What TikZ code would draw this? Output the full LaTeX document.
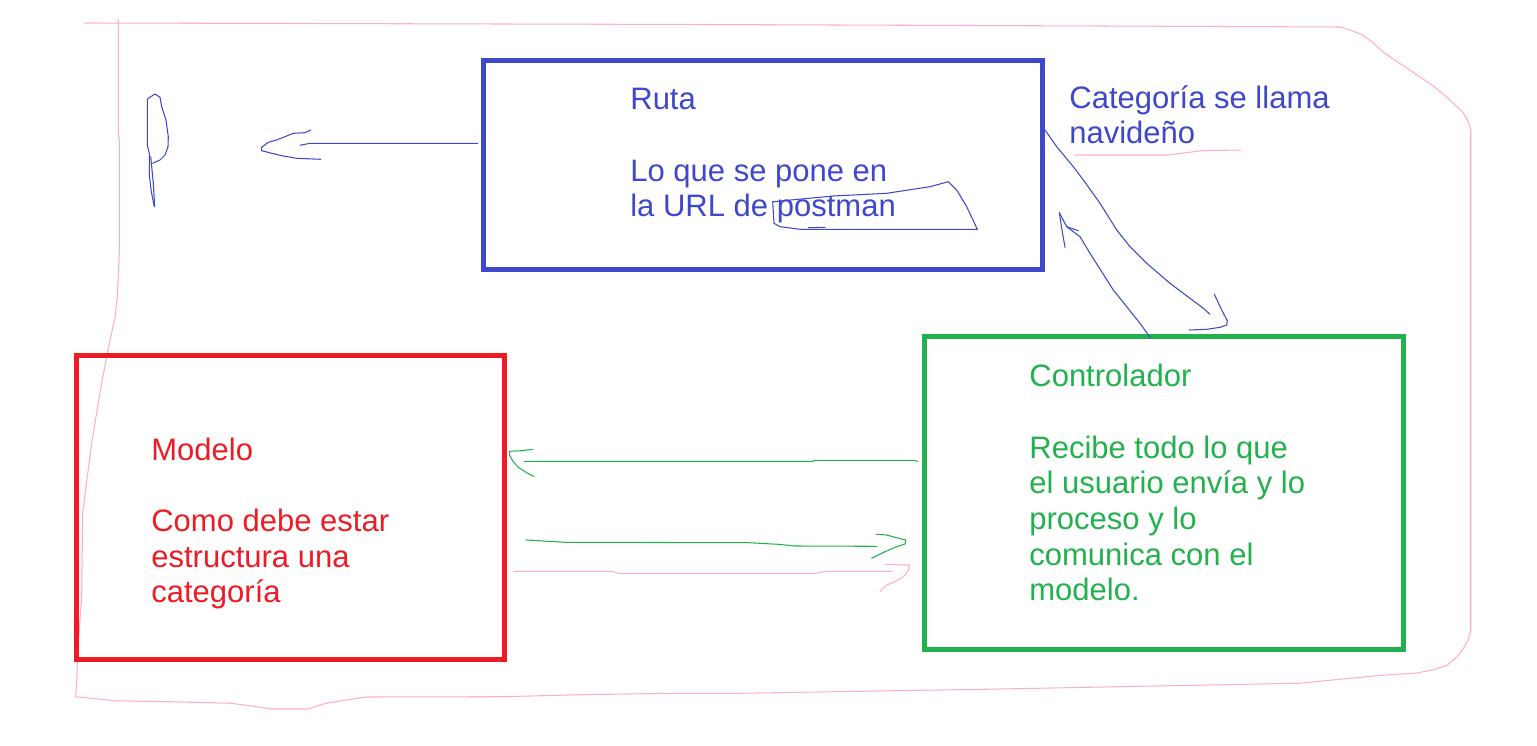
\documentclass[tikz,border=0pt]{standalone}
\usepackage{fontspec}
\setmainfont{Liberation Sans}
\definecolor{pblue}{HTML}{3F48CC}
\definecolor{pred}{HTML}{ED1C24}
\definecolor{pgreen}{HTML}{22B14C}
\definecolor{ppink}{HTML}{FFAEC9}
\newcommand\txtlines[1]{\vtop{#1}}
\newcommand\tl[1]{\hbox{#1}}
\tikzset{
  box/.style={draw, line width=2.83pt, inner sep=0pt, rectangle},
  txt/.style={anchor=base west, inner sep=0pt, font=\fontsize{17.65}{20.3}\selectfont},
  pen/.style={line width=0.6pt, line join=round, line cap=round},
}
\begin{document}
\begin{tikzpicture}[x=0.02cm, y=-0.02cm]
\useasboundingbox (0,0) rectangle (1537,746);
\fill[white] (0,0) rectangle (1537,746);

% pink hand-drawn frame
\draw[pen, ppink] (85,23) -- (300,23.5) -- (700,24.5) -- (1100,26) -- (1340,27) -- (1350,30) -- (1361.7,34.6) -- (1371.7,41.3) -- (1383.3,52.4) -- (1400,63.6) -- (1416.7,74.7) -- (1433.3,85.9) -- (1446.7,97) -- (1463.3,112.7) -- (1468.3,121.6) -- (1470.7,130.5) -- (1470.7,630.5) -- (1468.3,639.5) -- (1463.3,648.4) -- (1456.7,657.3) -- (1446.7,665.4) -- (1433.3,669.8) -- (1416.7,673) -- (1383.3,675.2) -- (1350,678.3) -- (1300,683.2) -- (1000,689) -- (740,693.3) -- (671.7,693.3) -- (582.4,694.7) -- (502,696.7) -- (365.9,697) -- (325.7,703.3) -- (307.9,709) -- (272,709) -- (232,703.3) -- (169.5,701.7) -- (113.7,700.7) -- (75.7,696.7) -- (76.7,680) -- (78.3,643.3) -- (81.7,596.7) -- (82.7,513.3) -- (87.3,476.7) -- (91.7,443) -- (96,416.7) -- (101.7,383) -- (106.7,356.7) -- (110,340) -- (115,318) -- (117.3,296.7) -- (119.3,253) -- (119.3,138) -- (118.3,138) -- (118.3,20);

% boxes
\node[box, draw=pblue, minimum width=11.18cm, minimum height=4.19cm] (ruta) at (763,165.25) {};
\node[box, draw=pred, minimum width=8.556cm, minimum height=6.09cm] (modelo) at (290.4,507.75) {};
\node[box, draw=pgreen, minimum width=9.58cm, minimum height=6.27cm] (ctrl) at (1164,493.25) {};

% texts
\node[txt, text=pblue] (rutatxt) at (630,110) {\txtlines{\tl{Ruta}\tl{}\tl{Lo que se pone en}\tl{la URL de postman}}};
\node[txt, text=pblue] (cattxt) at (1069,108.3) {\txtlines{\tl{Categoría se llama}\tl{navideño}}};
\node[txt, text=pred] (modtxt) at (151,460) {\txtlines{\tl{Modelo}\tl{}\tl{Como debe estar}\tl{estructura una}\tl{categoría}}};
\node[txt, text=pgreen] (ctrltxt) at (1029,386.7) {\txtlines{\tl{Controlador}\tl{}\tl{Recibe todo lo que}\tl{el usuario envía y lo}\tl{proceso y lo}\tl{comunica con el}\tl{modelo.}}};

% pink underline of navideño
\draw[pen, ppink] (1075,155) -- (1168.3,155) -- (1201.7,150.7) -- (1240.7,150);

% "P" scribble
\coordinate (ptop) at (155,94);
\draw[pen, pblue] (152.7,163.3) -- (160,160) -- (165,155) -- (168,146.7) -- (168.3,136.7) -- (166,120) -- (161.7,106.7) -- (160,97.3) -- (ptop) -- (148.3,98.3) -- (147.3,100) -- (147.3,145) -- (149.3,153.3) -- (149.3,175) -- (151.3,191.7) -- (154.3,206.7);
\draw[pen, pblue] (150.7,156.7) -- (153.3,183.3) -- (154.7,206.7);

% blue arrow Ruta -> left
\coordinate (a1s) at (477.7,143.3);
\coordinate (a1e) at (310,143.3);
\draw[pen, pblue] (a1s) -- (a1e) -- (300,145.3);
\draw[pen, pblue] (310.7,130) -- (305,132.7) -- (293.3,133.3) -- (286.7,136) -- (276.7,140) -- (268.3,142.3) -- (261.7,147.3) -- (261.7,150.7) -- (271.7,153.3) -- (281.7,155.7) -- (296.7,158.3) -- (320.7,159.3);

% scribble around "postman"
\draw[pen, pblue] (772.7,201.7) -- (833.3,196) -- (886.7,193.3) -- (930,186.7) -- (948.3,181.7) -- (956.7,190) -- (966.7,206.7) -- (977.3,229.3) -- (800,229.3) -- (780,226.7) -- (774,223.3) -- cycle;
\draw[pen, pblue] (808.3,227.7) -- (825,227.3);

% blue curve Ruta -> Controlador
\coordinate (b1s) at (1045,130);
\coordinate (b1e) at (1210,314.3);
\draw[pen, pblue] (b1s) -- (1056.7,146.7) -- (1073.3,166.7) -- (1083.3,180) -- (1100,203.3) -- (1116.7,230) -- (1130,246.7) -- (1146.7,263.3) -- (1170,283.3) -- (1190,298.3) -- (1203.3,308.3) -- (b1e);
\draw[pen, pblue] (1214.3,294.3) -- (1221.7,310) -- (1227.3,320.7) -- (1226.7,325) -- (1220,327.3) -- (1206.7,329.3) -- (1189.3,330);

% blue curve Controlador -> Ruta
\coordinate (b2s) at (1150.7,338.3);
\coordinate (b2e) at (1059.3,212.7);
\draw[pen, pblue] (b2s) -- (1140,323.3) -- (1126.7,306.7) -- (1113.3,290) -- (1101.7,271.7) -- (1090,253.3) -- (1080,236.7) -- (1066.7,226.7) -- (b2e);
\draw[pen, pblue] (b2e) -- (1062,230) -- (1065,247.3);
\draw[pen, pblue] (1066.7,226.7) -- (1078.3,230.7);

% green arrow Controlador -> Modelo
\coordinate (g1s) at (917.7,461.3);
\coordinate (g1e) at (524,461.3);
\draw[pen, pgreen] (g1s) -- (913.3,460.3) -- (814,460.3) -- (813.3,461.3) -- (g1e);
\draw[pen, pgreen] (532.7,449.3) -- (521.7,450.7) -- (509.3,451.3) -- (509.3,455) -- (513.3,461.7) -- (518.3,467.3) -- (526.7,472.7) -- (534.3,476.7);

% green arrow Modelo -> Controlador
\coordinate (g2s) at (526,540);
\coordinate (g2e) at (876.7,546.3);
\draw[pen, pgreen] (g2s) -- (543.3,541) -- (565,542.3) -- (748.3,542.7) -- (778.3,544.3) -- (795,546) -- (g2e);
\draw[pen, pgreen] (876,534.3) -- (886.7,535) -- (895,537.3) -- (905.7,540) -- (905,544) -- (895,547.3) -- (885,551.7) -- (871.7,558.3);

% pink arrow Modelo -> Controlador
\coordinate (p1s) at (514,571.3);
\coordinate (p1e) at (892.7,571.3);
\draw[pen, ppink] (p1s) -- (611.7,571.3) -- (618.3,573.3) -- (816,573.3) -- (826,571.3) -- (p1e);
\draw[pen, ppink] (885,564.3) -- (909.3,565) -- (908.7,570) -- (903.3,576.7) -- (895,581.7) -- (886.7,585) -- (880,591.7);
\end{tikzpicture}
\end{document}
